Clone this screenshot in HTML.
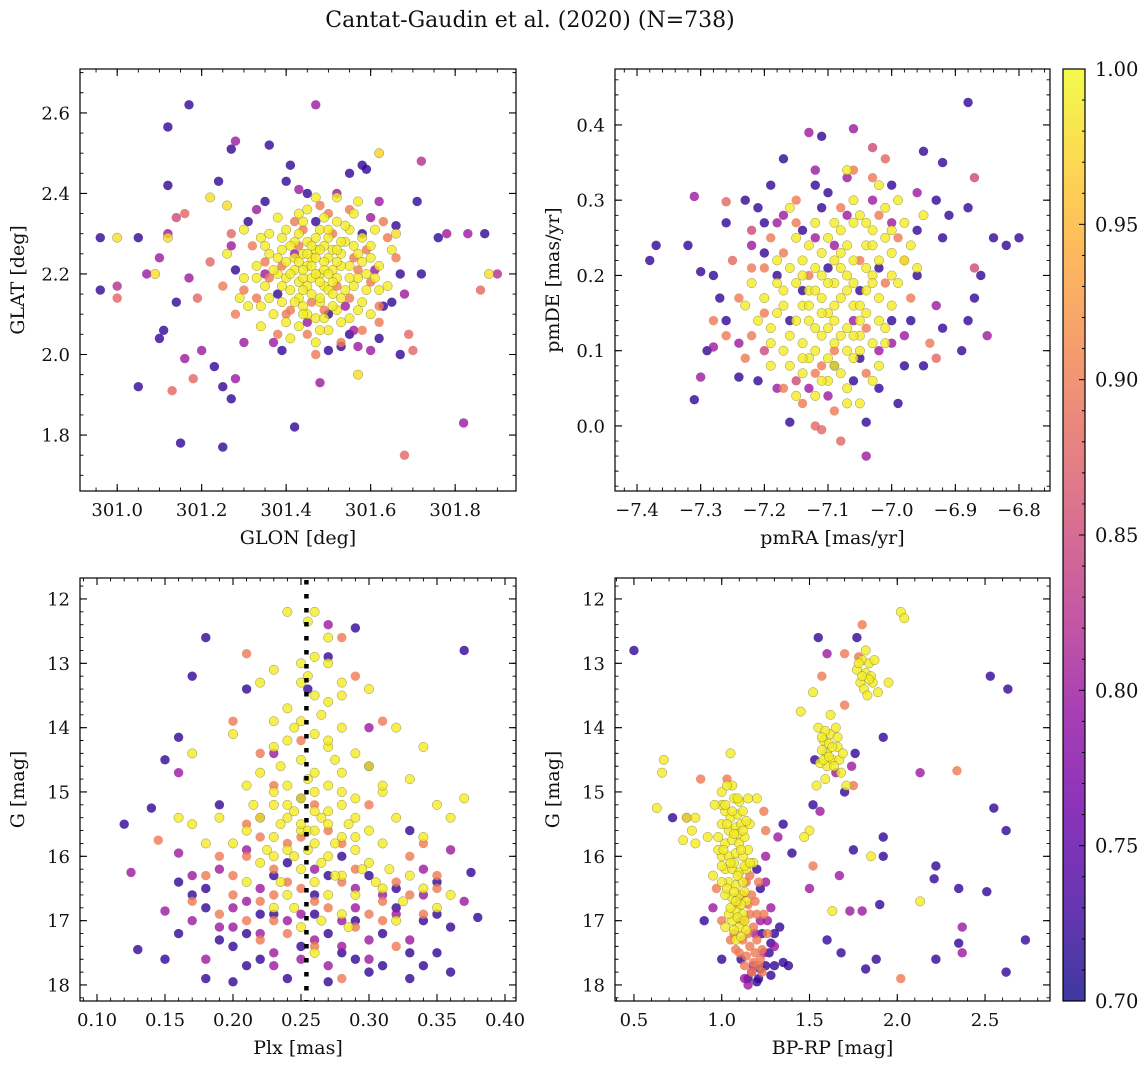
<!DOCTYPE html>
<html><head><meta charset="utf-8">
<style>
html,body{margin:0;padding:0;background:#fff;}
svg{display:block;font-family:"DejaVu Serif","Liberation Serif",serif;}
</style></head>
<body>
<svg id="fig" width="1148" height="1068" viewBox="0 0 1148 1068" xmlns="http://www.w3.org/2000/svg">
<text x="530" y="27" font-size="22" text-anchor="middle" fill="#111">Cantat-Gaudin et al. (2020) (N=738)</text>
</svg>
<script>
// ---- data: [x, y, membership probability] ----
const posStars = [
[301.17,2.62,.72],[301.47,2.62,.8],[301.12,2.565,.72],[301.28,2.53,.8],[301.27,2.51,.72],[301.36,2.52,.72],[301.62,2.50,.97],[301.72,2.48,.82],[301.41,2.47,.72],[301.58,2.47,.72],[301.12,2.42,.72],[301.24,2.43,.72],[301.40,2.43,.72],[301.55,2.45,.72],[301.59,2.46,.72],[300.96,2.29,.72],[301.0,2.29,.98],[301.05,2.29,.72],[301.12,2.29,.98],[301.12,2.30,.8],[301.1,2.24,.8],[301.09,2.20,.98],[301.07,2.20,.8],[301.0,2.17,.82],[300.96,2.16,.72],[301.0,2.14,.88],[301.14,2.13,.72],[301.19,2.14,.88],[301.17,2.19,.8],[301.22,2.23,.88],[301.14,2.34,.85],[301.16,2.35,.88],[301.22,2.39,.98],[301.26,2.37,.98],[301.27,2.30,.88],[301.11,2.06,.72],[301.10,2.04,.72],[301.16,1.99,.8],[301.2,2.01,.8],[301.23,1.97,.72],[301.18,1.94,.88],[301.13,1.91,.88],[301.05,1.92,.72],[301.28,1.94,.8],[301.27,1.89,.72],[301.25,1.92,.72],[301.15,1.78,.72],[301.25,1.77,.72],[301.42,1.82,.72],[301.68,1.75,.88],[301.82,1.83,.8],[301.86,2.16,.88],[301.88,2.20,.98],[301.9,2.20,.82],[301.87,2.30,.72],[301.83,2.30,.8],[301.78,2.30,.8],[301.76,2.29,.72],[301.72,2.20,.72],[301.71,2.38,.72],[301.66,2.30,.98],[301.69,2.05,.88],[301.70,2.01,.88],[301.65,2.13,.72],[301.67,2.0,.72],[301.57,1.95,.98],[301.48,1.93,.8],[301.53,2.02,.72],[301.62,2.04,.72],[301.6,2.34,.8],
[301.45,2.22,.99],[301.48,2.20,.99],[301.50,2.24,.99],[301.43,2.18,.99],[301.52,2.19,.99],[301.47,2.26,.99],[301.40,2.23,.99],[301.55,2.22,.99],[301.46,2.15,.99],[301.50,2.29,.99],[301.42,2.28,.99],[301.38,2.20,.99],[301.57,2.25,.99],[301.53,2.14,.99],[301.44,2.12,.99],[301.49,2.17,.99],[301.51,2.21,.99],[301.46,2.24,.99],[301.41,2.16,.99],[301.54,2.28,.99],[301.36,2.25,.99],[301.59,2.20,.99],[301.48,2.31,.99],[301.44,2.33,.99],[301.52,2.33,.99],[301.39,2.13,.99],[301.56,2.17,.99],[301.47,2.09,.99],[301.35,2.17,.99],[301.60,2.27,.99],[301.33,2.22,.99],[301.58,2.13,.99],[301.43,2.07,.99],[301.50,2.06,.99],[301.55,2.09,.99],[301.37,2.10,.99],[301.31,2.12,.99],[301.30,2.19,.99],[301.62,2.22,.99],[301.64,2.17,.99],[301.45,2.36,.99],[301.56,2.35,.99],[301.40,2.31,.99],[301.34,2.29,.99],[301.61,2.31,.99],[301.48,2.13,.99],[301.53,2.25,.99],[301.42,2.21,.99],[301.46,2.19,.99],[301.50,2.16,.99],[301.49,2.27,.99],[301.44,2.25,.99],[301.57,2.19,.99],[301.39,2.26,.99],[301.52,2.11,.99],[301.47,2.03,.99],[301.41,2.04,.99],[301.34,2.07,.99],[301.29,2.14,.99],[301.26,2.25,.99],[301.30,2.31,.99],[301.57,2.38,.99],[301.52,2.39,.99],[301.47,2.39,.99],[301.65,2.26,.99],[301.45,2.28,.99],[301.51,2.18,.99],[301.43,2.14,.99],[301.55,2.31,.99],[301.38,2.34,.99],[301.48,2.06,.99],[301.60,2.10,.99],[301.62,2.16,.99],[301.36,2.30,.99],[301.45,2.10,.99],[301.53,2.22,.99],[301.47,2.20,.99],[301.49,2.23,.99],[301.44,2.19,.99],[301.51,2.26,.99],
[301.42,2.24,.99],[301.46,2.27,.99],[301.49,2.21,.99],[301.52,2.23,.99],[301.45,2.17,.99],[301.48,2.14,.99],[301.51,2.12,.99],[301.44,2.21,.99],[301.40,2.19,.99],[301.38,2.24,.99],[301.41,2.27,.99],[301.43,2.30,.99],[301.47,2.29,.99],[301.50,2.31,.99],[301.53,2.28,.99],[301.56,2.27,.99],[301.58,2.23,.99],[301.55,2.19,.99],[301.54,2.16,.99],[301.51,2.15,.99],[301.48,2.18,.99],[301.46,2.22,.99],[301.44,2.16,.99],[301.42,2.13,.99],[301.39,2.17,.99],[301.37,2.21,.99],[301.36,2.14,.99],[301.40,2.08,.99],[301.44,2.10,.99],[301.49,2.09,.99],[301.53,2.08,.99],[301.57,2.11,.99],[301.59,2.16,.99],[301.61,2.19,.99],[301.60,2.24,.99],[301.58,2.29,.99],[301.54,2.32,.99],[301.49,2.34,.99],[301.43,2.35,.99],[301.39,2.29,.99],[301.35,2.27,.99],[301.33,2.19,.99],[301.34,2.12,.99],[301.47,2.24,.99],[301.50,2.20,.99],[301.45,2.25,.99],[301.52,2.26,.99],[301.48,2.26,.99],[301.43,2.23,.99],[301.41,2.20,.99],
[301.40,2.10,.9],[301.56,2.24,.9],[301.35,2.23,.9],[301.60,2.18,.9],[301.45,2.05,.9],[301.53,2.03,.9],[301.30,2.16,.9],[301.63,2.33,.9],[301.50,2.35,.9],[301.28,2.10,.9],[301.66,2.24,.9],[301.42,2.33,.9],[301.58,2.06,.9],[301.32,2.27,.9],[301.62,2.08,.9],[301.47,2.00,.9],[301.55,2.36,.9],[301.38,2.05,.9],[301.64,2.29,.9],[301.25,2.17,.9],
[301.46,2.13,.9],[301.51,2.30,.9],[301.39,2.22,.9],[301.55,2.14,.9],[301.43,2.27,.9],[301.57,2.21,.9],[301.36,2.19,.9],[301.49,2.11,.9],[301.44,2.31,.9],[301.59,2.26,.9],[301.33,2.14,.9],[301.52,2.17,.9],[301.41,2.11,.9],[301.48,2.37,.9],[301.62,2.12,.9],
[301.37,2.03,.8],[301.57,2.02,.8],[301.62,2.38,.8],[301.33,2.36,.8],[301.68,2.15,.8],[301.27,2.27,.8],[301.52,2.40,.8],[301.43,2.41,.8],[301.30,2.03,.8],[301.60,2.01,.8],
[301.45,2.08,.8],[301.58,2.30,.72],[301.38,2.15,.72],[301.54,2.12,.8],[301.42,2.25,.8],[301.50,2.10,.72],[301.61,2.21,.8],[301.35,2.20,.8],[301.47,2.33,.72],[301.56,2.06,.8],
[301.55,2.05,.72],[301.35,2.38,.72],[301.66,2.32,.72],[301.28,2.21,.72],[301.39,2.01,.72],[301.63,2.12,.72],[301.50,2.01,.72],[301.45,2.40,.72],[301.31,2.33,.72],[301.67,2.20,.72]
];
const pmStars = [
[-6.88,0.43,.72],[-7.06,0.395,.8],[-7.13,0.39,.8],[-7.11,0.385,.72],[-7.03,0.37,.85],[-7.01,0.355,.88],[-6.95,0.365,.72],[-6.92,0.35,.72],[-7.17,0.355,.72],[-6.87,0.33,.85],[-7.31,0.305,.8],[-7.26,0.298,.88],[-7.37,0.24,.72],[-7.38,0.22,.72],[-7.32,0.24,.72],[-7.30,0.205,.72],[-7.29,0.10,.72],[-7.31,0.035,.72],[-7.30,0.065,.8],[-7.28,0.105,.8],[-7.24,0.065,.72],[-7.21,0.06,.72],[-7.18,0.05,.8],[-7.12,0.0,.88],[-7.11,-0.005,.88],[-7.08,-0.02,.88],[-7.04,-0.04,.8],[-7.04,0.005,.72],[-7.16,0.005,.72],[-6.99,0.03,.72],[-6.98,0.08,.72],[-6.95,0.08,.72],[-6.93,0.09,.88],[-6.89,0.10,.72],[-6.88,0.14,.72],[-6.85,0.12,.8],[-6.87,0.17,.72],[-6.80,0.25,.72],[-6.82,0.24,.72],[-6.84,0.25,.72],[-6.87,0.21,.85],[-6.86,0.20,.72],[-6.88,0.29,.72],[-6.91,0.28,.72],[-6.92,0.25,.72],[-6.93,0.30,.72],[-6.96,0.20,.72],[-6.98,0.22,.88],[-6.93,0.16,.8],[-6.92,0.13,.72],[-7.23,0.30,.72],[-7.19,0.32,.72],[-7.21,0.29,.72],[-7.26,0.27,.72],[-7.28,0.20,.72],[-7.27,0.17,.72],[-7.26,0.14,.72],[-7.24,0.11,.8],[-7.25,0.22,.88],[-7.22,0.26,.85],[-7.20,0.10,.85],[-7.15,0.06,.85],[-7.10,0.04,.8],[-7.09,0.08,.72],[-7.02,0.05,.72],[-7.00,0.11,.8],[-6.97,0.14,.72],[-7.17,0.28,.8],[-7.12,0.32,.72],[-7.07,0.33,.8],[-7.00,0.32,.72],[-6.96,0.31,.8],
[-7.08,0.17,.99],[-7.10,0.15,.99],[-7.06,0.19,.99],[-7.12,0.13,.99],[-7.04,0.21,.99],[-7.09,0.11,.99],[-7.14,0.16,.99],[-7.02,0.17,.99],[-7.07,0.24,.99],[-7.11,0.20,.99],[-7.05,0.14,.99],[-7.13,0.09,.99],[-7.16,0.12,.99],[-7.00,0.23,.99],[-7.03,0.26,.99],[-7.09,0.27,.99],[-7.06,0.09,.99],[-7.15,0.19,.99],[-7.18,0.15,.99],[-7.01,0.13,.99],[-6.99,0.19,.99],[-7.10,0.06,.99],[-7.12,0.04,.99],[-7.07,0.05,.99],[-7.05,0.28,.99],[-6.98,0.27,.99],[-6.97,0.24,.99],[-7.11,0.23,.99],[-7.14,0.22,.99],[-7.17,0.18,.99],[-7.19,0.13,.99],[-7.20,0.17,.99],[-7.16,0.08,.99],[-7.08,0.21,.99],[-7.04,0.18,.99],[-7.07,0.13,.99],[-7.13,0.18,.99],[-7.09,0.16,.99],[-7.03,0.11,.99],[-7.01,0.29,.99],[-7.06,0.30,.99],[-7.12,0.27,.99],[-7.15,0.25,.99],[-7.18,0.22,.99],[-7.22,0.19,.99],[-7.21,0.14,.99],[-7.14,0.11,.99],[-7.10,0.09,.99],[-7.05,0.03,.99],[-7.02,0.08,.99],[-7.00,0.16,.99],[-6.96,0.21,.99],[-6.95,0.28,.99],[-7.04,0.24,.99],[-7.08,0.26,.99],[-7.11,0.17,.99],[-7.06,0.16,.99],[-7.09,0.19,.99],[-7.13,0.14,.99],[-7.07,0.10,.99],[-7.17,0.10,.99],[-7.19,0.08,.99],[-7.15,0.04,.99],[-7.03,0.20,.99],[-7.01,0.25,.99],[-7.10,0.13,.99],[-7.12,0.21,.99],[-7.05,0.12,.99],[-7.08,0.07,.99],[-6.99,0.30,.99],[-7.07,0.34,.99],[-7.23,0.16,.99],[-7.16,0.29,.99],[-7.02,0.14,.99],[-7.14,0.07,.99],
[-7.07,0.18,.99],[-7.09,0.14,.99],[-7.05,0.16,.99],[-7.11,0.12,.99],[-7.06,0.22,.99],[-7.10,0.19,.99],[-7.13,0.16,.99],[-7.04,0.15,.99],[-7.08,0.23,.99],[-7.12,0.10,.99],[-7.15,0.14,.99],[-7.03,0.19,.99],[-7.02,0.22,.99],[-7.06,0.27,.99],[-7.10,0.25,.99],[-7.14,0.20,.99],[-7.17,0.16,.99],[-7.09,0.08,.99],[-7.05,0.10,.99],[-7.01,0.11,.99],[-7.00,0.20,.99],[-7.03,0.24,.99],[-7.07,0.20,.99],[-7.11,0.15,.99],[-7.08,0.12,.99],[-7.12,0.18,.99],[-7.16,0.21,.99],[-7.18,0.19,.99],[-7.13,0.24,.99],[-7.04,0.27,.99],[-7.00,0.26,.99],[-6.98,0.22,.99],[-7.06,0.12,.99],[-7.09,0.22,.99],[-7.14,0.09,.99],[-7.11,0.06,.99],[-7.07,0.03,.99],[-7.03,0.06,.99],[-7.19,0.11,.99],[-7.02,0.32,.99],
[-7.22,0.21,.9],[-7.19,0.25,.9],[-7.24,0.17,.9],[-7.26,0.12,.9],[-7.17,0.05,.9],[-7.14,0.03,.9],[-7.02,0.28,.9],[-6.99,0.25,.9],[-7.04,0.07,.9],[-7.06,0.34,.9],[-7.22,0.12,.9],[-7.28,0.14,.9],[-7.15,0.30,.9],[-6.97,0.17,.9],[-7.11,0.08,.9],[-7.03,0.33,.9],[-7.20,0.21,.9],[-6.94,0.11,.9],[-7.09,0.02,.9],[-7.23,0.09,.9],
[-7.17,0.23,.9],[-7.13,0.20,.9],[-7.05,0.22,.9],[-7.09,0.10,.9],[-7.20,0.15,.9],[-7.01,0.19,.9],[-7.12,0.07,.9],[-7.15,0.27,.9],[-7.08,0.29,.9],[-7.04,0.13,.9],
[-7.18,0.27,.8],[-7.02,0.21,.72],[-7.11,0.29,.72],[-7.13,0.05,.8],[-7.05,0.09,.72],[-6.98,0.12,.8],[-7.20,0.23,.72],[-7.07,0.28,.8],[-7.16,0.14,.72],[-7.00,0.27,.8],[-7.10,0.31,.72],[-7.14,0.26,.72],[-7.03,0.30,.8],[-6.96,0.26,.72],[-7.22,0.24,.8],[-7.06,0.06,.72],[-7.12,0.34,.8],
[-7.10,0.21,.72],[-7.06,0.14,.8],[-7.14,0.18,.72],[-7.02,0.10,.8],[-7.18,0.20,.72],[-7.09,0.24,.8],[-7.05,0.18,.72],[-7.12,0.25,.8],[-7.20,0.27,.72],[-7.00,0.14,.72]
];
const plxStars = [
[0.18,12.6,.72],[0.29,12.45,.72],[0.37,12.8,.72],[0.17,13.2,.72],[0.21,13.4,.72],[0.16,14.15,.72],[0.15,14.5,.72],[0.12,15.5,.72],[0.14,15.25,.72],[0.13,17.45,.72],[0.15,17.6,.72],[0.16,16.4,.72],[0.18,17.9,.72],[0.20,17.95,.72],[0.24,17.9,.72],[0.27,17.95,.72],[0.33,17.9,.72],[0.36,17.8,.72],[0.38,16.95,.72],[0.375,16.25,.72],[0.35,16.4,.72],[0.33,15.6,.72],[0.30,16.3,.72],[0.25,15.1,.72],[0.19,15.2,.72],[0.17,16.6,.72],[0.22,16.9,.72],[0.26,16.6,.72],[0.31,17.2,.72],[0.29,17.6,.72],[0.21,17.2,.72],[0.34,17.0,.72],[0.28,16.0,.72],[0.23,16.3,.72],[0.18,16.8,.72],[0.35,17.5,.72],[0.19,17.3,.72],[0.32,16.8,.72],[0.27,17.2,.72],[0.24,16.1,.72],[0.255,13.4,.72],[0.27,12.9,.72],[0.30,14.6,.72],
[0.20,17.4,.72],[0.22,17.6,.72],[0.25,17.4,.72],[0.28,17.5,.72],[0.31,17.7,.72],[0.33,17.5,.72],[0.26,16.9,.72],[0.29,17.0,.72],[0.32,16.5,.72],[0.36,17.1,.72],[0.18,16.5,.72],[0.23,16.9,.72],[0.27,16.3,.72],[0.30,17.8,.72],[0.34,17.7,.72],[0.16,17.2,.72],[0.21,17.7,.72],[0.35,16.9,.72],
[0.125,16.25,.8],[0.16,15.95,.8],[0.15,16.85,.8],[0.17,17.0,.8],[0.20,17.1,.8],[0.23,17.5,.8],[0.28,17.0,.8],[0.31,16.6,.8],[0.34,16.2,.8],[0.36,15.9,.8],[0.33,17.3,.8],[0.22,16.5,.8],[0.19,16.2,.8],[0.26,17.3,.8],[0.30,17.6,.8],[0.25,16.9,.8],[0.21,15.9,.8],[0.16,14.7,.8],[0.22,15.4,.8],[0.29,16.8,.8],[0.37,16.7,.8],[0.18,17.6,.8],[0.23,14.4,.8],[0.27,12.4,.8],[0.30,14.0,.8],
[0.20,16.8,.8],[0.22,17.2,.8],[0.24,17.0,.8],[0.26,16.2,.8],[0.28,17.4,.8],[0.30,17.3,.8],[0.32,16.9,.8],[0.19,17.1,.8],[0.17,16.3,.8],[0.23,17.7,.8],[0.27,17.7,.8],[0.34,16.6,.8],[0.21,16.7,.8],[0.29,16.5,.8],[0.25,17.6,.8],
[0.21,12.85,.9],[0.145,15.75,.9],[0.20,13.9,.9],[0.22,14.4,.9],[0.23,14.9,.9],[0.21,15.5,.9],[0.23,16.2,.9],[0.26,16.7,.9],[0.24,15.8,.9],[0.22,17.3,.9],[0.30,15.2,.9],[0.33,16.0,.9],[0.35,16.5,.9],[0.20,16.6,.9],[0.28,17.9,.9],[0.27,15.6,.9],[0.19,16.0,.9],[0.31,17.0,.9],[0.25,14.2,.9],[0.23,17.0,.9],[0.18,16.3,.9],[0.29,16.2,.9],[0.32,16.4,.9],[0.26,15.2,.9],[0.24,16.4,.9],[0.21,16.0,.9],[0.28,15.8,.9],[0.28,12.6,.9],[0.29,13.2,.9],[0.31,13.9,.9],[0.34,15.8,.9],
[0.20,16.3,.9],[0.22,16.7,.9],[0.25,16.5,.9],[0.27,16.8,.9],[0.29,17.1,.9],[0.31,16.7,.9],[0.33,16.6,.9],[0.19,16.9,.9],[0.24,17.2,.9],[0.26,17.4,.9],[0.28,16.4,.9],[0.30,16.9,.9],[0.35,16.3,.9],[0.21,17.0,.9],[0.23,16.6,.9],[0.34,16.9,.9],[0.17,16.7,.9],[0.32,17.4,.9],[0.25,15.7,.9],[0.22,15.7,.9],
[0.24,12.2,.99],[0.26,12.2,.99],[0.255,12.35,.99],[0.26,12.9,.99],[0.25,13.0,.99],[0.27,13.0,.99],[0.28,13.3,.99],[0.25,13.3,.99],[0.26,13.5,.99],[0.22,13.3,.99],[0.24,13.7,.99],[0.27,13.6,.99],[0.23,13.9,.99],[0.25,13.9,.99],[0.28,14.0,.99],[0.26,14.1,.99],[0.24,14.2,.99],[0.27,14.3,.99],[0.29,14.4,.99],[0.23,14.3,.99],[0.25,14.5,.99],[0.26,14.7,.99],[0.22,14.7,.99],[0.28,14.7,.99],[0.30,14.6,.99],[0.34,14.3,.99],[0.32,14.0,.99],[0.17,14.4,.99],[0.24,14.9,.99],[0.27,14.9,.99],[0.25,15.1,.99],[0.23,15.2,.99],[0.26,15.3,.99],[0.28,15.2,.99],[0.24,15.4,.99],[0.27,15.5,.99],[0.29,15.4,.99],[0.22,15.4,.99],[0.25,15.6,.99],[0.26,15.8,.99],[0.23,15.7,.99],[0.28,15.7,.99],[0.30,15.6,.99],[0.24,15.9,.99],[0.27,16.0,.99],[0.29,15.9,.99],[0.21,15.6,.99],[0.32,15.4,.99],[0.31,15.8,.99],[0.20,15.8,.99],[0.25,16.2,.99],[0.28,16.3,.99],[0.30,16.1,.99],[0.33,16.3,.99],[0.34,15.7,.99],[0.19,15.4,.99],[0.17,15.5,.99],[0.16,15.4,.99],[0.22,16.1,.99],[0.26,16.4,.99],[0.24,16.6,.99],[0.27,16.6,.99],[0.31,16.5,.99],[0.35,16.8,.99],[0.36,16.6,.99],[0.29,16.6,.99],[0.23,16.8,.99],[0.21,16.4,.99],[0.18,15.8,.99],[0.25,17.1,.99],[0.28,16.9,.99],[0.32,17.0,.99],[0.26,17.5,.99],[0.23,15.0,.99],[0.26,15.0,.99],[0.24,15.2,.99],[0.25,15.5,.99],[0.255,15.9,.99],[0.245,16.0,.99],[0.27,15.3,.99],[0.29,15.1,.99],[0.31,15.0,.99],[0.35,15.2,.99],[0.37,15.1,.99],[0.20,14.1,.99],[0.21,14.9,.99],[0.33,14.8,.99],[0.27,12.6,.99],[0.28,13.5,.99],[0.23,13.1,.99],[0.30,13.4,.99],[0.31,14.9,.99],[0.36,15.4,.99],
[0.245,15.3,.99],[0.265,15.4,.99],[0.235,15.5,.99],[0.275,15.8,.99],[0.255,15.6,.99],[0.285,15.5,.99],[0.215,15.2,.99],[0.225,15.9,.99],[0.265,16.1,.99],[0.295,16.2,.99],[0.235,16.4,.99],[0.275,16.3,.99],[0.305,16.4,.99],[0.315,16.2,.99],[0.325,16.7,.99],[0.245,16.8,.99],[0.265,17.0,.99],[0.285,17.1,.99],[0.235,14.6,.99],[0.255,14.8,.99],[0.275,14.5,.99],[0.245,14.0,.99],[0.265,13.8,.99],[0.255,13.2,.99],[0.27,14.2,.99],[0.29,15.7,.99],[0.23,16.0,.99],[0.34,16.5,.99],[0.26,15.6,.99],[0.28,15.0,.99]
];
const cmdStars = [
[0.5,12.8,.72],[1.55,12.6,.72],[1.77,12.6,.72],[2.53,13.2,.72],[2.63,13.4,.72],[2.55,15.25,.72],[2.62,15.6,.72],[2.51,16.55,.72],[2.35,16.5,.72],[2.22,16.15,.72],[2.21,16.35,.72],[2.22,17.6,.72],[2.35,17.35,.72],[2.62,17.8,.72],[2.73,17.3,.72],[1.92,15.7,.72],[1.92,16.0,.72],[1.9,16.75,.72],[1.82,17.75,.72],[1.68,17.5,.72],[1.6,17.3,.72],[1.35,17.65,.72],[1.38,17.7,.72],[1.25,17.7,.72],[1.2,17.95,.72],[1.15,17.9,.72],[1.11,17.6,.72],[1.28,17.35,.72],[1.33,17.1,.72],[1.23,17.2,.72],[1.88,17.6,.72],[1.75,15.9,.72],[1.4,15.95,.72],[1.35,15.5,.72],[1.52,15.2,.72],[1.7,15.0,.72],[0.72,15.4,.72],[0.9,17.0,.72],[1.0,17.6,.72],[1.2,16.2,.72],[1.22,16.5,.72],[1.3,17.7,.72],[1.92,14.15,.72],[1.76,14.4,.72],[1.53,14.5,.72],
[1.21,17.9,.72],[1.27,17.5,.72],[1.22,17.75,.72],[1.30,17.2,.72],[1.28,17.85,.72],
[1.25,16.0,.8],[1.28,16.8,.8],[1.3,17.4,.8],[1.22,17.0,.8],[1.18,17.7,.8],[1.15,18.0,.8],[1.8,16.85,.8],[1.67,16.3,.8],[2.37,17.1,.8],[2.37,17.5,.8],[1.6,12.85,.8],[1.65,14.7,.8],[1.74,14.6,.8],[1.32,15.7,.8],[0.95,16.8,.8],[0.8,15.4,.8],[1.5,16.5,.8],[1.73,16.85,.8],[1.56,15.3,.8],[2.13,14.7,.8],[1.25,16.4,.8],
[1.17,17.8,.8],[1.24,17.5,.8],[1.19,17.2,.8],[1.26,17.0,.8],[1.13,17.9,.8],
[1.12,16.6,.9],[1.16,16.9,.9],[1.18,17.1,.9],[1.2,17.3,.9],[1.14,17.55,.9],[1.22,17.6,.9],[1.17,17.8,.9],[1.1,17.5,.9],[1.05,17.3,.9],[1.13,17.0,.9],[1.19,16.7,.9],[1.21,16.4,.9],[1.24,16.9,.9],[1.26,17.2,.9],[1.0,17.0,.9],[0.97,16.5,.9],[1.23,17.8,.9],[1.16,16.3,.9],[1.08,17.45,.9],[1.7,12.85,.9],[1.8,12.4,.9],[1.7,13.65,.9],[1.75,14.9,.9],[2.34,14.67,.9],[2.02,17.9,.9],[1.52,16.15,.9],[1.25,15.6,.9],[0.88,14.8,.9],[1.03,14.8,.9],[1.24,15.3,.9],[1.57,13.2,.9],[1.78,12.9,.9],
[1.14,16.4,.9],[1.17,16.6,.9],[1.15,17.2,.9],[1.19,17.5,.9],[1.21,17.7,.9],[1.12,17.3,.9],[1.16,17.4,.9],[1.18,17.65,.9],[1.11,17.0,.9],[1.13,17.7,.9],[1.09,16.75,.9],[1.2,16.9,.9],[1.07,17.2,.9],[1.15,16.75,.9],[1.23,17.45,.9],
[1.05,14.4,.99],[1.06,14.9,.99],[1.0,15.0,.99],[1.07,15.1,.99],[1.1,15.15,.99],[1.02,15.3,.99],[1.05,15.4,.99],[1.09,15.35,.99],[1.12,15.3,.99],[1.0,15.5,.99],[1.04,15.6,.99],[1.08,15.55,.99],[1.11,15.5,.99],[0.98,15.7,.99],[1.02,15.8,.99],[1.06,15.75,.99],[1.10,15.8,.99],[1.13,15.7,.99],[1.0,16.0,.99],[1.04,16.0,.99],[1.08,15.95,.99],[1.12,16.0,.99],[1.15,15.9,.99],[1.02,16.2,.99],[1.06,16.2,.99],[1.10,16.25,.99],[1.14,16.2,.99],[1.04,16.4,.99],[1.08,16.45,.99],[1.12,16.4,.99],[1.06,16.65,.99],[1.10,16.6,.99],[1.14,16.7,.99],[1.08,16.85,.99],[1.12,16.9,.99],[1.06,17.0,.99],[1.1,17.1,.99],[1.14,17.15,.99],[1.08,17.3,.99],[1.0,15.2,.99],[0.96,15.2,.99],[0.98,15.9,.99],[0.95,16.3,.99],[1.18,16.1,.99],[1.15,15.1,.99],[0.92,15.7,.99],[0.85,15.4,.99],[1.03,14.9,.99],[1.04,16.9,.99],[1.02,16.6,.99],[1.0,16.4,.99],[1.13,16.55,.99],[1.07,16.1,.99],[1.09,15.65,.99],[1.16,15.5,.99],
[1.03,15.5,.99],[1.07,15.65,.99],[1.11,15.9,.99],[1.05,16.1,.99],[1.09,16.3,.99],[1.13,16.15,.99],[1.03,16.5,.99],[1.07,16.55,.99],[1.11,16.75,.99],[1.05,16.8,.99],[1.09,16.95,.99],[1.13,17.0,.99],[1.07,17.15,.99],[1.11,17.25,.99],[1.01,15.9,.99],[1.06,15.3,.99],[1.09,15.1,.99],[1.12,15.6,.99],[1.14,15.45,.99],[1.0,16.15,.99],[1.16,16.1,.99],[1.08,16.7,.99],[1.02,17.1,.99],
[0.63,15.25,.99],[0.66,14.7,.99],[0.67,14.5,.99],[0.80,15.4,.99],[0.83,15.6,.99],[0.85,15.8,.99],[0.78,15.75,.99],[1.45,13.75,.99],[1.52,13.45,.99],[1.20,15.1,.99],[1.02,15.2,.99],
[1.55,14.0,.99],[1.58,14.2,.99],[1.6,14.4,.99],[1.62,14.1,.99],[1.57,14.35,.99],[1.63,14.5,.99],[1.6,14.6,.99],[1.66,14.3,.99],[1.65,14.0,.99],[1.59,14.8,.99],[1.56,14.55,.99],[1.68,14.7,.99],[1.71,14.9,.99],[1.62,13.8,.99],[1.61,14.25,.99],[1.67,14.5,.99],[1.77,13.1,.99],[1.8,12.95,.99],[1.82,13.15,.99],[1.79,13.3,.99],[1.84,13.0,.99],[1.81,13.4,.99],[1.86,13.3,.99],[1.83,13.5,.99],[1.78,13.0,.99],[2.02,12.2,.99],[2.04,12.3,.99],[1.87,12.95,.99],[1.85,13.2,.99],[1.89,13.45,.99],[1.82,12.8,.99],[1.95,13.3,.99],[2.13,16.7,.99],[1.63,16.85,.99],[1.5,15.6,.99],[1.85,16.0,.99],[1.47,15.7,.99],[1.66,14.15,.99],[1.69,14.4,.99],[1.54,14.9,.99],
[1.59,14.05,.99],[1.63,14.3,.99],[1.58,14.5,.99],[1.64,14.6,.99],[1.61,14.45,.99],[1.57,14.15,.99],[1.84,13.25,.99],[1.80,13.2,.99]
];
// ticks
const p1XTicks=[301.0,301.2,301.4,301.6,301.8], p1YTicks=[1.8,2.0,2.2,2.4,2.6];
const p2XTicks=[-7.4,-7.3,-7.2,-7.1,-7.0,-6.9,-6.8], p2YTicks=[0.0,0.1,0.2,0.3,0.4];
const p3XTicks=[0.10,0.15,0.20,0.25,0.30,0.35,0.40], gTicks=[12,13,14,15,16,17,18];
const p4XTicks=[0.5,1.0,1.5,2.0,2.5];
const cbTicks=[0.70,0.75,0.80,0.85,0.90,0.95,1.00];
const plxMedian=0.254;

const NS="http://www.w3.org/2000/svg";
const svg=document.getElementById('fig');
function mk(tag,attrs,parent){const e=document.createElementNS(NS,tag);for(const k in attrs)e.setAttribute(k,attrs[k]);(parent||svg).appendChild(e);return e;}
const plasma=[[13,8,135],[65,4,157],[106,0,168],[143,13,164],[177,42,144],[204,71,120],[225,100,98],[242,132,75],[252,166,54],[252,206,37],[240,249,33]];
function cmap(p){let t=(p-0.7)/0.3;t=Math.max(0,Math.min(1,t))*10;const i=Math.min(9,Math.floor(t)),f=t-i;const a=plasma[i],b=plasma[i+1];return 'rgb('+a.map((v,k)=>Math.round(v+(b[k]-v)*f)).join(',')+')';}
function fmt(v,d){return (v<0?'\u2212':'')+Math.abs(v).toFixed(d);}

function panel(o){
  const g=mk('g',{});
  
  
  const sx=v=>o.x0+(v-o.xmin)/(o.xmax-o.xmin)*(o.x1-o.x0);
  const sy=v=>o.yinv? o.y0+(v-o.ymin)/(o.ymax-o.ymin)*(o.y1-o.y0) : o.y1-(v-o.ymin)/(o.ymax-o.ymin)*(o.y1-o.y0);
  const clip='c'+o.name;
  const cp=mk('clipPath',{id:clip},g);mk('rect',{x:o.x0,y:o.y0,width:o.x1-o.x0,height:o.y1-o.y0},cp);
  const pts=mk('g',{'clip-path':'url(#'+clip+')'},g);
  
  
  const data=o.data.slice().sort((a,b)=>a[2]-b[2]);
  data.forEach(d=>{
    const c=mk('circle',{cx:sx(d[0]),cy:sy(d[1]),r:4.7,fill:cmap(d[2]),'fill-opacity':0.8,stroke:d[2]>0.95?'#6a6a30':'none','stroke-width':0.5,'stroke-opacity':0.7},pts);
    
    
  });
  if(o.vline!==undefined){
    const l=mk('line',{x1:sx(o.vline),x2:sx(o.vline),y1:o.y0+2,y2:o.y1,stroke:'#000','stroke-width':4.5,'stroke-dasharray':'4.5,9.5'},g);
    
    
  }
  const fr=mk('rect',{x:o.x0,y:o.y0,width:o.x1-o.x0,height:o.y1-o.y0,fill:'none',stroke:'#000','stroke-width':1.2},g);
  
  
  const eps=1e-9;
  for(let v=Math.ceil(o.xmin/o.xminor-eps)*o.xminor;v<=o.xmax;v+=o.xminor){const X=sx(v);mk('path',{d:`M${X},${o.y1}v-3.5M${X},${o.y0}v3.5`,stroke:'#000','stroke-width':0.9},g);}
  for(let v=Math.ceil(o.ymin/o.yminor-eps)*o.yminor;v<=o.ymax;v+=o.yminor){const Y=sy(v);mk('path',{d:`M${o.x0},${Y}h3.5M${o.x1},${Y}h-3.5`,stroke:'#000','stroke-width':0.9},g);}
  o.xt.forEach(v=>{const X=sx(v);mk('path',{d:`M${X},${o.y1}v-7M${X},${o.y0}v7`,stroke:'#000','stroke-width':1.1},g);
    const t=mk('text',{x:X,y:o.y1+25,'font-size':18,'text-anchor':'middle',fill:'#111'},g);t.textContent=fmt(v,o.xd);
    });
  o.yt.forEach(v=>{const Y=sy(v);mk('path',{d:`M${o.x0},${Y}h7M${o.x1},${Y}h-7`,stroke:'#000','stroke-width':1.1},g);
    const t=mk('text',{x:o.x0-10,y:Y+6.5,'font-size':18,'text-anchor':'end',fill:'#111'},g);t.textContent=fmt(v,o.yd);
    });
  const xl=mk('text',{x:(o.x0+o.x1)/2,y:o.y1+53,'font-size':19,'text-anchor':'middle',fill:'#111'},g);xl.textContent=o.xlab;
  
  const yc=(o.y0+o.y1)/2;
  const yl=mk('text',{x:o.ylx,y:yc,'font-size':19,'text-anchor':'middle',fill:'#111',transform:`rotate(-90 ${o.ylx} ${yc})`},g);yl.textContent=o.ylab;
  
}
panel({name:'glon-glat-panel',data:posStars,x0:80,x1:516,y0:69,y1:491,xmin:300.912,xmax:301.944,ymin:1.661,ymax:2.709,xt:p1XTicks,yt:p1YTicks,xd:1,yd:1,xminor:0.05,yminor:0.05,xlab:'GLON [deg]',ylab:'GLAT [deg]',ylx:24});
panel({name:'pm-panel',data:pmStars,x0:615,x1:1050,y0:69,y1:491,xmin:-7.4346,xmax:-6.7513,ymin:-0.0864,ymax:0.4744,xt:p2XTicks,yt:p2YTicks,xd:1,yd:1,xminor:0.02,yminor:0.02,xlab:'pmRA [mas/yr]',ylab:'pmDE [mas/yr]',ylx:559});
panel({name:'plx-g-panel',data:plxStars,x0:80,x1:516,y0:578,y1:1001,xmin:0.0875,xmax:0.4081,ymin:11.674,ymax:18.249,yinv:true,xt:p3XTicks,yt:gTicks,xd:2,yd:0,xminor:0.01,yminor:0.2,xlab:'Plx [mas]',ylab:'G [mag]',ylx:24,vline:plxMedian});
panel({name:'cmd-panel',data:cmdStars,x0:615,x1:1050,y0:578,y1:1001,xmin:0.392,xmax:2.870,ymin:11.674,ymax:18.249,yinv:true,xt:p4XTicks,yt:gTicks,xd:1,yd:0,xminor:0.1,yminor:0.2,xlab:'BP-RP [mag]',ylab:'G [mag]',ylx:559});

// colorbar
const cb=mk('g',{});


const defs=mk('defs',{},cb);
const lg=mk('linearGradient',{id:'cbg',x1:0,y1:1,x2:0,y2:0},defs);
plasma.forEach((c,i)=>{const col=`rgb(${Math.round(c[0]*0.8+51)},${Math.round(c[1]*0.8+51)},${Math.round(c[2]*0.8+51)})`;mk('stop',{offset:i/10,'stop-color':col},lg);});
const cy0=69,cy1=1001,cx0=1063,cx1=1085;
const cys=v=>cy1-(v-0.7)/0.3*(cy1-cy0);
mk('rect',{x:cx0,y:cy0,width:cx1-cx0,height:cy1-cy0,fill:'url(#cbg)',stroke:'#000','stroke-width':1.2},cb);
for(let i=70;i<=100;i++){const Y=cys(i/100);mk('path',{d:`M${cx1},${Y}h-${i%5===0?6:3}`,stroke:'#000','stroke-width':1},cb);}
cbTicks.forEach(v=>{const t=mk('text',{x:1095,y:cys(v)+7,'font-size':19.5,fill:'#111'},cb);t.textContent=v.toFixed(2);
  });
</script>
</body></html>
